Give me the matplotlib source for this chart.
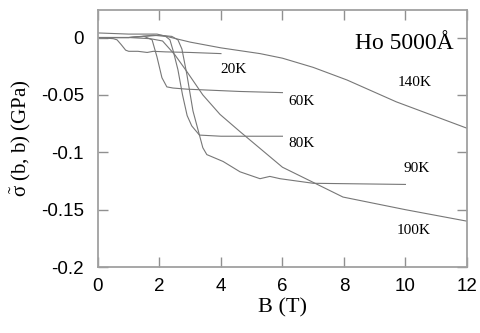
import matplotlib
matplotlib.use('Agg')
import matplotlib.pyplot as plt
from matplotlib.ticker import FuncFormatter

plt.rcParams['axes.unicode_minus'] = False
plt.rcParams['mathtext.fontset'] = 'custom'
plt.rcParams['mathtext.rm'] = 'Liberation Serif'
plt.rcParams['mathtext.it'] = 'Liberation Serif'

# field (T) and stress (GPa)
b20 = [0, 0.5, 0.62, 0.75, 0.9, 1.0, 1.3, 1.6, 1.8, 2.2, 3.0, 4.0]
s20 = [0, -0.001, -0.002, -0.006, -0.011, -0.012, -0.012, -0.013, -0.012, -0.0125, -0.013, -0.014]

b60 = [0, 1.0, 1.5, 1.76, 1.92, 2.08, 2.24, 2.44, 2.9, 4.62, 6.0]
s60 = [0, 0.0, 0.001, -0.002, -0.017, -0.035, -0.043, -0.044, -0.045, -0.047, -0.048]

b80 = [0, 1.0, 1.8, 2.2, 2.34, 2.45, 2.6, 2.75, 2.9, 3.05, 3.3, 4.0, 6.0]
s80 = [0, 0.0, 0.002, 0.001, -0.002, -0.012, -0.028, -0.05, -0.068, -0.077, -0.085, -0.086, -0.086]

b90 = [0, 1.0, 2.0, 2.4, 2.6, 2.73, 2.89, 3.09, 3.41, 3.54, 4.07, 4.62, 5.27, 5.59, 5.92, 7.0, 10.0]
s90 = [0, 0.0, 0.002, 0.001, -0.002, -0.010, -0.032, -0.064, -0.096, -0.102, -0.108, -0.117,
       -0.123, -0.121, -0.123, -0.127, -0.128]

b100 = [0, 1.0, 1.7, 2.1, 2.5, 2.9, 3.41, 3.97, 4.62, 6.0, 7.97, 10.0, 12.0]
s100 = [0, 0.0, -0.001, -0.003, -0.015, -0.030, -0.050, -0.067, -0.082, -0.113, -0.139, -0.150, -0.160]

b140 = [0, 1.0, 1.92, 3.0, 4.0, 5.27, 6.0, 7.0, 8.1, 9.7, 12.0]
s140 = [0.004, 0.003, 0.003, -0.004, -0.009, -0.014, -0.018, -0.026, -0.037, -0.056, -0.079]

curves = [(b20, s20), (b60, s60), (b80, s80), (b90, s90), (b100, s100), (b140, s140)]
labels = ['20K', '60K', '80K', '90K', '100K', '140K']
label_pos = [(3.97, -0.028), (6.18, -0.0557), (6.18, -0.092), (9.95, -0.114),
             (9.72, -0.168), (9.76, -0.039)]

fig = plt.figure(figsize=(4.81, 3.33), dpi=100)
ax = fig.add_axes([0.2037, 0.198, 0.767, 0.772])

for b, s in curves:
    ax.plot(b, s, color='#777777', lw=0.8)

for lab, (x, y) in zip(labels, label_pos):
    ax.text(x, y, lab, family='Liberation Serif', fontsize=11, ha='left', va='center')

ax.text(11.57, -0.005, 'Ho 5000Å', family='Liberation Serif', fontsize=17,
        ha='right', va='center')

ax.set_xlim(0, 12)
ax.set_ylim(-0.2, 0.024)
ax.set_xticks([0, 2, 4, 6, 8, 10, 12])
ax.set_yticks([0, -0.05, -0.1, -0.15, -0.2])
ax.yaxis.set_major_formatter(FuncFormatter(lambda v, p: '%g' % v))

for sp in ax.spines.values():
    sp.set_color('#a0a0a0')
    sp.set_linewidth(1.3)
ax.tick_params(direction='in', length=7, width=1, color='#909090',
               top=True, right=True, labelsize=13.5)
ax.tick_params(axis='y', pad=10)
ax.tick_params(axis='x', pad=8)
for t in ax.get_xticklabels() + ax.get_yticklabels():
    t.set_family('Liberation Sans')

ax.set_xlabel('B (T)', family='Liberation Serif', fontsize=16, labelpad=2)
ax.set_ylabel(r'$\tilde{\mathrm{σ}}$ (b, b) (GPa)', family='Liberation Serif',
              fontsize=15, labelpad=6)

fig.savefig('out.png', dpi=100)
